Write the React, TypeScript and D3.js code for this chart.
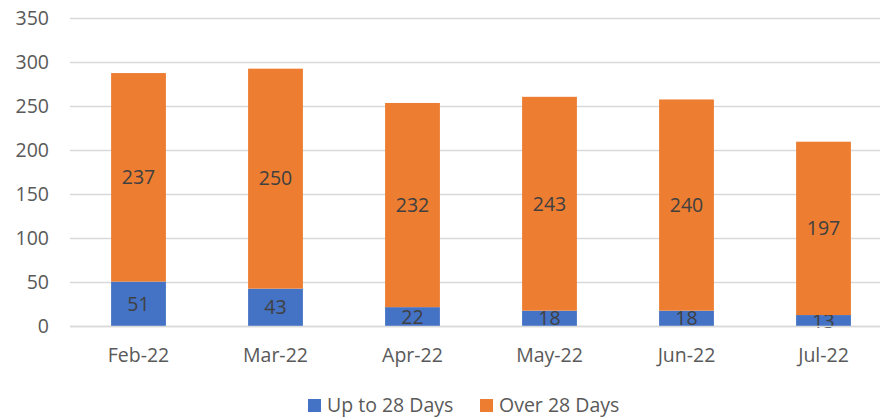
import React from 'react';
import * as d3 from 'd3';

const months = ['Feb-22', 'Mar-22', 'Apr-22', 'May-22', 'Jun-22', 'Jul-22'];
const upTo28 = [51, 43, 22, 18, 18, 13];
const over28 = [237, 250, 232, 243, 240, 197];
const seriesNames = ['Up to 28 Days', 'Over 28 Days'];
const seriesColors = ['#4472C4', '#ED7D31'];
const yTicks = [0, 50, 100, 150, 200, 250, 300, 350];

export default function App() {
  const width = 880;
  const height = 420;
  const font = '"Open Sans", sans-serif';

  const x = d3.scaleBand<string>()
    .domain(months)
    .range([70, 892])
    .paddingInner(0.6)
    .paddingOuter(0.3);

  const y = d3.scaleLinear().domain([0, 350]).range([326.5, 18.5]);

  const rows = months.map((m, i) => ({ month: m, up: upTo28[i], over: over28[i] }));
  const stack = d3.stack<any>().keys(['up', 'over']);
  const layers = stack(rows);

  const translate = (a: number, b: number) => `translate(${a},${b})`;

  return (
    <svg width={width} height={height} style={{ position: 'absolute', left: 0, top: 0, background: '#fff' }}>
      <rect width={width} height={height} fill="#fff" />
      <g>
        {yTicks.map(t => (
          <g key={t}>
            <line x1={70} x2={width} y1={y(t)} y2={y(t)} stroke="#D9D9D9" strokeWidth={1.3} />
            <text x={49} y={y(t)} dy="0.35em" textAnchor="end" fontFamily={font} fontSize={19.5} fill="#595959">{t}</text>
          </g>
        ))}
      </g>
      {layers.map((layer, li) => (
        <g key={li}>
          {layer.map((d, i) => {
            const x0 = x(months[i]) as number;
            const top = y(d[1]);
            const bottom = y(d[0]);
            return (
              <g key={i}>
                <rect x={x0} y={top} width={x.bandwidth()} height={bottom - top} fill={seriesColors[li]} />
                <text
                  transform={translate(x0 + x.bandwidth() / 2, (top + bottom) / 2)}
                  dy="0.35em"
                  textAnchor="middle"
                  fontFamily={font}
                  fontSize={19.5}
                  fill="#404040"
                >
                  {d[1] - d[0]}
                </text>
              </g>
            );
          })}
        </g>
      ))}
      <line x1={70} x2={width} y1={y(0)} y2={y(0)} stroke="#D9D9D9" strokeWidth={1.3} />
      {months.map(m => (
        <text key={m} x={(x(m) as number) + x.bandwidth() / 2} y={355} dy="0.35em" textAnchor="middle"
          fontFamily={font} fontSize={19.5} fill="#595959">{m}</text>
      ))}
      <g>
        {seriesNames.map((s, i) => {
          const lx = i === 0 ? 308 : 480;
          return (
            <g key={s}>
              <rect x={lx} y={399} width={13} height={13} fill={seriesColors[i]} />
              <text x={lx + 19} y={405.5} dy="0.35em" fontFamily={font} fontSize={19.5} fill="#595959">{s}</text>
            </g>
          );
        })}
      </g>
    </svg>
  );
}
